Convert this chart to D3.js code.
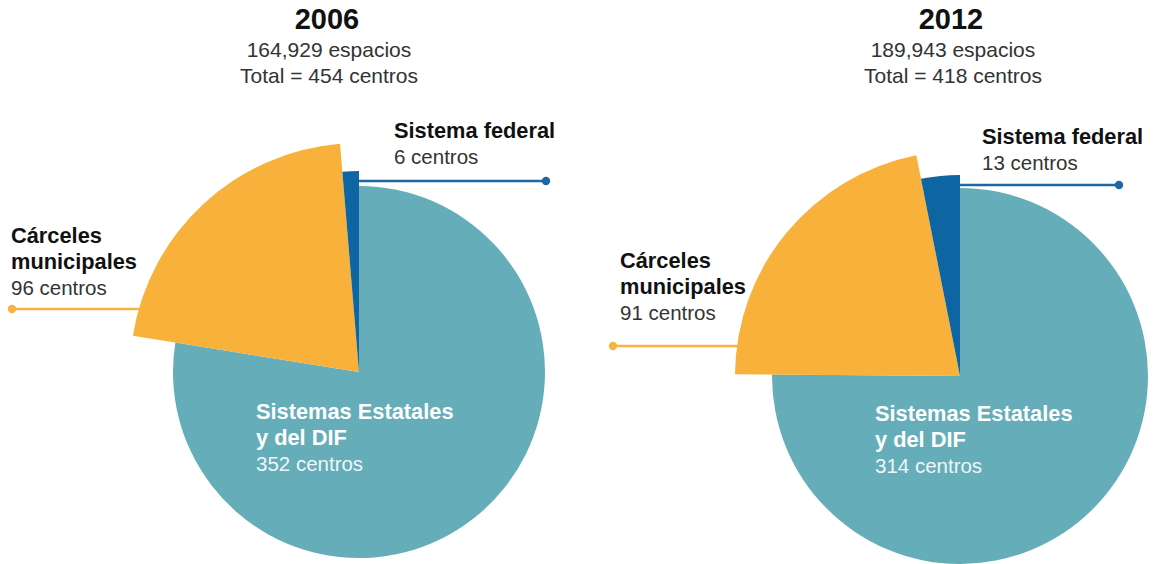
<!DOCTYPE html>
<html>
<head>
<meta charset="utf-8">
<script src="https://cdn.jsdelivr.net/npm/d3@7/dist/d3.min.js"></script>
<style>
  html, body { margin: 0; padding: 0; background: #fff; }
  svg { display: block; font-family: "Liberation Sans", Arial, Helvetica, sans-serif; }
</style>
</head>
<body>
<svg id="chart" width="1153" height="564"></svg>
<script>
// Centros penitenciarios por sistema, 2006 y 2012
const years = ["2006", "2012"];
const espacios = [164929, 189943];
const categories = ["Sistemas Estatales y del DIF", "Cárceles municipales", "Sistema federal"];
const categoryLines = [["Sistemas Estatales", "y del DIF"], ["Cárceles", "municipales"], ["Sistema federal"]];
const estatales = [352, 314];
const municipales = [96, 91];
const federal = [6, 13];

// Drawing styles
const colors = ["#65aeb9", "#f8b13a", "#0d66a1"];
const lineColors = [null, "#f6b444", "#1e67a3"];

// Panel geometry: pie centre, base radius and radius of each wedge
const panels = [
  { cx: 359, cy: 372, radii: [186, 229, 201], titleX: 327,
    labels: [{ x: 256, y: 419, fill: "#ffffff", sub: "#eef6f7" },
             { x: 11,  y: 243, dotX: 12,  lineY: 309 },
             { x: 394, y: 138, dotX: 546, lineY: 181 }] },
  { cx: 960, cy: 376, radii: [188, 225, 201], titleX: 951,
    labels: [{ x: 875, y: 421, fill: "#ffffff", sub: "#eef6f7" },
             { x: 620, y: 268, dotX: 613, lineY: 346 },
             { x: 982, y: 144, dotX: 1119, lineY: 185 }] }
];

const svg = d3.select("#chart");
const fmt = d3.format(",");
const lineH = 26;

const pie = d3.pie().sort(null).startAngle(0).endAngle(2 * Math.PI);

years.forEach((year, i) => {
  const values = [estatales[i], municipales[i], federal[i]];
  const total = d3.sum(values);
  const p = panels[i];
  const g = svg.append("g");

  // Header
  g.append("text").attr("x", p.titleX).attr("y", 29)
    .attr("text-anchor", "middle").attr("font-size", 29).attr("font-weight", "bold")
    .attr("fill", "#111").text(year);
  g.append("text").attr("x", p.titleX + 2).attr("y", 57)
    .attr("text-anchor", "middle").attr("font-size", 21).attr("fill", "#333")
    .text(fmt(espacios[i]) + " espacios");
  g.append("text").attr("x", p.titleX + 2).attr("y", 83)
    .attr("text-anchor", "middle").attr("font-size", 21).attr("fill", "#333")
    .text("Total = " + total + " centros");

  // Leader lines (behind the wedges)
  [1, 2].forEach(k => {
    const L = p.labels[k];
    g.append("line")
      .attr("x1", L.dotX).attr("x2", p.cx)
      .attr("y1", L.lineY).attr("y2", L.lineY)
      .attr("stroke", lineColors[k]).attr("stroke-width", 2.5);
    g.append("circle").attr("cx", L.dotX).attr("cy", L.lineY).attr("r", 4.2)
      .attr("fill", lineColors[k]);
  });

  // Wedges
  const arcs = pie(values);
  const pg = g.append("g").attr("transform", `translate(${p.cx},${p.cy})`);
  pg.selectAll("path").data(arcs).join("path")
    .attr("d", (d, k) => d3.arc().innerRadius(0).outerRadius(p.radii[k])(d))
    .attr("fill", (d, k) => colors[k]);

  // Category labels
  categoryLines.forEach((lines, k) => {
    const L = p.labels[k];
    const t = g.append("text").attr("font-size", 21.8);
    lines.forEach((ln, j) => {
      t.append("tspan").attr("x", L.x).attr("y", L.y + j * lineH)
        .attr("font-weight", "bold").attr("fill", L.fill || "#111").text(ln);
    });
    t.append("tspan").attr("x", L.x).attr("y", L.y + lines.length * lineH)
      .attr("font-size", 20.5).attr("fill", L.sub || "#333")
      .text(values[k] + " centros");
  });
});
</script>
</body>
</html>
